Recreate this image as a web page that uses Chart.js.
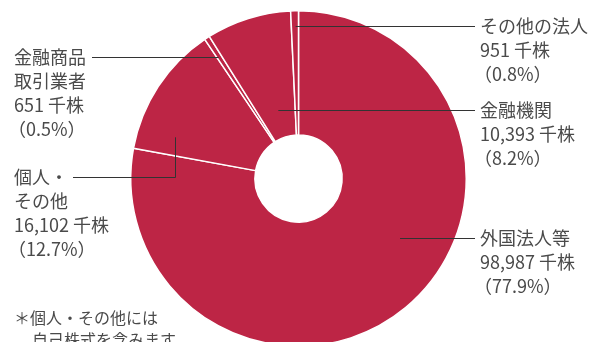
<!DOCTYPE html>
<html>
<head>
<meta charset="utf-8">
<script src="https://cdn.jsdelivr.net/npm/chart.js@4"></script>
<style>
  html, body { margin: 0; padding: 0; background: #fff; overflow: hidden; }
  #wrap { position: absolute; left: 0; top: 0; width: 595px; height: 370px; }
</style>
</head>
<body>
<div id="wrap"><canvas id="holderChart" width="595" height="370"></canvas></div>
<script>
// 所有者別株式数（千株）
var categories = ['外国法人等', '個人・その他', '金融商品取引業者', '金融機関', 'その他の法人'];
var shares = [98987, 16102, 651, 10393, 951];
var percents = ['77.9', '12.7', '0.5', '8.2', '0.8'];
var nameLines = [['外国法人等'], ['個人・', 'その他'], ['金融商品', '取引業者'], ['金融機関'], ['その他の法人']];
var footnote = ['＊個人・その他には', '自己株式を含みます。'];

// label placement (text box + where the leader line meets the slice)
var labelLayout = [
    { x: 480, y: 238, side: 'right', lineEnd: 475, frac: 0.43 },
    { x: 14,  y: 177, side: 'left',  lineStart: 73, frac: 0.175, rFrac: 0.70, elbow: true },
    { x: 14,  y: 57,  side: 'left',  lineStart: 92, frac: 0.3 },
    { x: 480, y: 110, side: 'right', lineEnd: 475, frac: 0.53 },
    { x: 480, y: 26,  side: 'right', lineEnd: 475, frac: 0.6 }
];

var RED = '#bd2545';
var TEXT = '#4a4a4a';
var LINE = '#333333';
var FONT = '"Noto Sans CJK JP", "Noto Sans", sans-serif';

var labelPlugin = {
    id: 'holderLabels',
    afterDraw: function(chart){
        var ctx = chart.ctx;
        var arcs = chart.getDatasetMeta(0).data;
        ctx.save();

        // leader lines
        ctx.strokeStyle = LINE;
        ctx.lineWidth = 1;
        arcs.forEach(function(arc, i){
            var lay = labelLayout[i];
            var p = arc.getProps(['x', 'y', 'startAngle', 'endAngle', 'innerRadius', 'outerRadius']);
            var a = p.startAngle + lay.frac * (p.endAngle - p.startAngle);
            var ly = Math.round(lay.y) + 0.5;
            ctx.beginPath();
            if(lay.elbow){
                var r = p.innerRadius + lay.rFrac * (p.outerRadius - p.innerRadius);
                var ax = Math.round(p.x + r * Math.cos(a)) + 0.5;
                var ay = p.y + r * Math.sin(a);
                ctx.moveTo(lay.lineStart, ly);
                ctx.lineTo(ax, ly);
                ctx.lineTo(ax, ay);
            } else {
                var rr = (ly - p.y) / Math.sin(a);
                var bx = p.x + rr * Math.cos(a);
                if(lay.side === 'right'){
                    ctx.moveTo(bx, ly);
                    ctx.lineTo(lay.lineEnd, ly);
                } else {
                    ctx.moveTo(lay.lineStart, ly);
                    ctx.lineTo(bx, ly);
                }
            }
            ctx.stroke();
        });

        // label texts
        ctx.fillStyle = TEXT;
        ctx.font = '18px ' + FONT;
        ctx.textBaseline = 'middle';
        ctx.textAlign = 'left';
        categories.forEach(function(cat, i){
            var lay = labelLayout[i];
            var lines = nameLines[i].concat([
                shares[i].toLocaleString('en-US') + ' 千株',
                '（' + percents[i] + '%）'
            ]);
            lines.forEach(function(t, k){
                var dx = t.charAt(0) === '（' ? -6 : 0;
                ctx.fillText(t, lay.x + dx, lay.y + k * 24);
            });
        });

        // footnote
        ctx.font = '16px ' + FONT;
        ctx.fillText(footnote[0], 14, 318);
        ctx.fillText(footnote[1], 32, 340);
        ctx.restore();
    }
};

var chart = new Chart(document.getElementById('holderChart'), {
    type: 'doughnut',
    data: {
        labels: categories,
        datasets: [{
            data: shares,
            backgroundColor: RED,
            borderColor: '#ffffff',
            borderWidth: 1.5
        }]
    },
    options: {
        responsive: false,
        animation: false,
        cutout: '26%',
        rotation: 0,
        layout: { padding: { left: 130, right: 128, top: 10, bottom: 23 } },
        plugins: {
            legend: { display: false },
            tooltip: { enabled: false }
        }
    },
    plugins: [labelPlugin]
});
</script>
</body>
</html>
